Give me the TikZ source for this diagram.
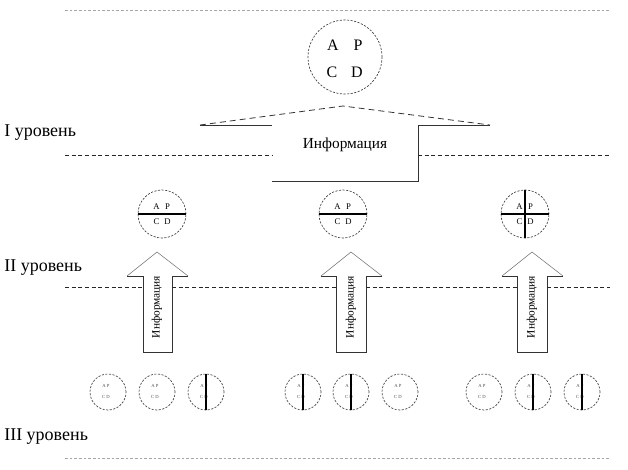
\documentclass[tikz,border=0pt]{standalone}
\usepackage{fontspec}
\setmainfont{Liberation Serif}
\begin{document}
\begin{tikzpicture}[x=0.75pt,y=-0.75pt,
  lvl/.style={draw=black!85, dash pattern=on 3pt off 2pt, line width=0.6pt},
  faint/.style={draw=black!35, dash pattern=on 2pt off 1.5pt, line width=0.5pt},
  roof/.style={draw=black!80, dash pattern=on 4.5pt off 3pt, line width=0.6pt},
  edge/.style={draw=black!80, line width=0.6pt},
  head/.style={draw=black!55, line width=0.4pt},
  circ/.style={circle, draw=black!75, dash pattern=on 1.6pt off 1.1pt, line width=0.5pt, inner sep=0pt},
  bigc/.style={circ, minimum size=55.5pt},
  midc/.style={circ, minimum size=36pt},
  smallc/.style={circ, minimum size=27pt},
  cross/.style={draw=black, line width=0.9pt},
  lab/.style={anchor=west, font=\fontsize{13.5}{15}\selectfont, inner sep=0pt},
  ltr/.style={inner sep=0pt, font=\fontsize{12}{14}\selectfont},
  mltr/.style={inner sep=0pt, font=\fontsize{6.5}{8}\selectfont},
  sltr/.style={inner sep=0pt, text=black!70, font=\fontsize{3.5}{4}\selectfont},
  vtxt/.style={rotate=90, inner sep=0pt, font=\fontsize{8.5}{10}\selectfont}
]
\useasboundingbox (0,0) rectangle (628,469);

% top and bottom faint lines
\draw[faint] (65,10) -- (610,10);
\draw[faint] (65,458) -- (610,458);

% level labels
\node[lab] (l1) at (4,133) {I уровень};
\node[lab] (l2) at (4,268) {II уровень};
\node[lab] (l3) at (4,437) {III уровень};

% top circle
\node[bigc] (top) at (345,57) {};
\node[ltr] (ta) at (333,45) {A};
\node[ltr] (tp) at (358,45) {P};
\node[ltr] (tc) at (332,72) {C};
\node[ltr] (td) at (357,72) {D};

% big arrow (box with roof)
\draw[roof] (200,125) -- (343,106) -- (490,125);
\draw[edge] (200,125) -- (272,125);
\draw[edge] (418,125) -- (490,125);
\draw[edge] (418,125) -- (418,181) -- (272,181);
\node[ltr, font=\fontsize{11.5}{13}\selectfont] (info) at (345,145) {Информация};

% level I line
\draw[lvl] (65,155) -- (272,155);
\draw[lvl] (418,155) -- (610,155);

% middle circles
\foreach \n/\x in {m1/162,m2/343,m3/525}{
  \node[midc] (\n) at (\x,214) {};
  \draw[cross] (\n.west) -- (\n.east);
  \node[mltr] at (\x-5.5,207) {A};
  \node[mltr] at (\x+5.5,207) {P};
  \node[mltr] at (\x-5.5,222) {C};
  \node[mltr] at (\x+5.5,222) {D};
}
\draw[cross] (m3.north) -- (m3.south);

% up arrows
\foreach \n/\p/\a/\b in {a1/157/143/172, a2/351/336/366, a3/532/517/547}{
  \draw[head] (\p-30,276) -- (\p,252) -- (\p+31,276);
  \draw[edge] (\p-30,276) -- (\a,276) -- (\a,352) -- (\b,352) -- (\b,276) -- (\p+31,276);
  \node[vtxt] (\n) at (\p,307) {Информация};
}

% level II line
\draw[lvl] (65,287) -- (143,287);
\draw[lvl] (172,287) -- (336,287);
\draw[lvl] (366,287) -- (517,287);
\draw[lvl] (547,287) -- (610,287);

% small circles
\foreach \n/\x in {s1/108,s2/157,s3/206,s4/303,s5/351,s6/400,s7/484,s8/533,s9/582}{
  \node[smallc] (\n) at (\x,392) {};
  \node[sltr] at (\x-2,386) {A P};
  \node[sltr] at (\x-2,397) {C D};
}
\foreach \n in {s3,s4,s5,s8,s9}{
  \draw[cross] (\n.north) -- (\n.south);
}
\end{tikzpicture}
\end{document}
